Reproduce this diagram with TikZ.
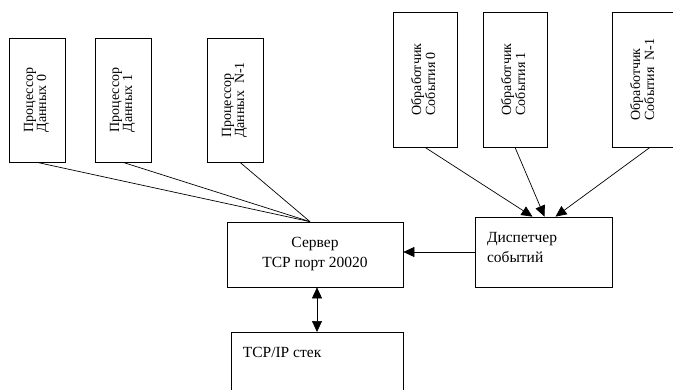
\documentclass[tikz,border=0pt]{standalone}
\usepackage{fontspec}
\setmainfont{Liberation Serif}
\usepackage{graphicx}
\usetikzlibrary{arrows.meta, calc}

% two lines of text turned upright
\newcommand{\sidetext}[2]{\rotatebox{90}{\begin{tabular}{@{}l@{}}#1\\#2\end{tabular}}}

\begin{document}
\begin{tikzpicture}[
    x=1pt, y=-1pt,
    box/.style={draw, rectangle, line width=0.7pt, inner sep=0pt, font=\fontsize{15.5}{20}\selectfont},
    procbox/.style={box, minimum width=56pt, minimum height=124pt, font=\fontsize{14}{13}\selectfont},
    evbox/.style={box, minimum width=64pt, minimum height=135pt, font=\fontsize{14}{13}\selectfont},
    line/.style={line width=0.7pt},
    arrow/.style={line width=0.7pt, -{Triangle[length=11pt, width=10pt]}},
    dblarrow/.style={line width=0.7pt, {Triangle[length=11pt, width=10pt]}-{Triangle[length=11pt, width=10pt]}}
]
\useasboundingbox (0,0) rectangle (673,389);
\clip (0,0) rectangle (673,389);

% Data processors
\node[procbox] (p0) at (37,100) {\sidetext{Процессор}{Данных 0}};
\node[procbox] (p1) at (123,100) {\sidetext{Процессор}{Данных 1}};
\node[procbox] (pN) at (235,100) {\sidetext{Процессор}{Данных~~N-1}};

% Event handlers
\node[evbox] (e0) at (425,79.5) {\sidetext{Обработчик}{События 0}};
\node[evbox] (e1) at (515,79.5) {\sidetext{Обработчик}{События 1}};
\node[evbox] (eN) at (644,79.5) {\sidetext{Обработчик}{События~~N-1}};

% Server, dispatcher, stack
\node[box, minimum width=176pt, minimum height=65pt, align=center] (srv) at (315,254.5) {Сервер\\TCP порт 20020};
\node[box, minimum height=70pt, text width=113pt, inner xsep=12pt, align=left] (disp) at (543.5,252) {Диспетчер\\событий\rule[-9pt]{0pt}{0pt}};
\node[box, minimum width=172pt, minimum height=80pt, anchor=north] (tcp) at (317,332) {};
\node[font=\fontsize{15.5}{20}\selectfont, anchor=base west, inner sep=0pt] (tcptext) at ($(tcp.north west)+(12,25)$) {TCP/IP стек};

\coordinate (srvin) at ($(srv.north)+(-5,0)$);

% Lines
\draw[line] (p0.south) -- (srvin);
\draw[line] (p1.south) -- (srvin);
\draw[line] ($(pN.south)+(5,0)$) -- (srvin);

% Arrows
\draw[arrow] (e0.south) -- ($(disp.north)+(-11,0)$);
\draw[arrow] (e1.south) -- ($(disp.north)+(1,0)$);
\draw[arrow] ($(eN.south)+(6,0)$) -- ($(disp.north)+(12,0)$);
\draw[arrow] (disp.west) -- (disp.west -| srv.east);
\draw[dblarrow] (tcp.north |- srv.south) -- (tcp.north);
\end{tikzpicture}
\end{document}
